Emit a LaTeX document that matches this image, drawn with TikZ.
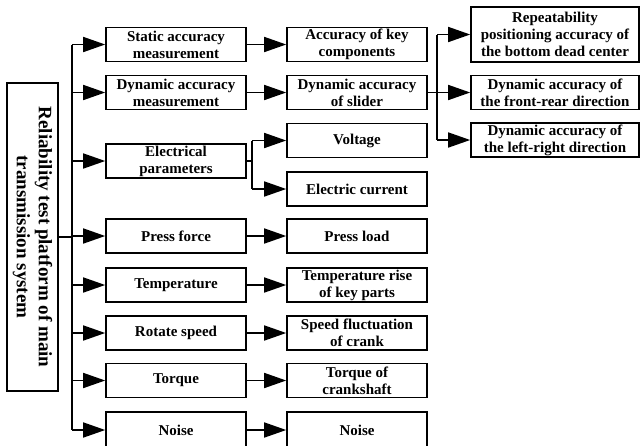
\documentclass[tikz,border=0pt]{standalone}
\usepackage{fontspec}
\setmainfont{Liberation Serif}
\usetikzlibrary{arrows.meta}
\begin{document}
\begin{tikzpicture}[x=1pt,y=-1pt,
  box/.style={draw, line width=1.6pt, align=center, inner sep=0pt,
    font=\bfseries\fontsize{15}{17}\selectfont, minimum height=34pt},
  c1/.style={box, minimum width=140pt},
  c3/.style={box, minimum width=168pt},
  link/.style={line width=1.6pt},
  arr/.style={link, -{Triangle[length=22pt,width=15pt]}}]
\useasboundingbox (0,0) rectangle (640,445);

% root box, text running downwards (north anchor faces right)
\node[box, font=\bfseries\fontsize{19}{22}\selectfont,
      minimum width=308pt, minimum height=51pt, rotate=-90]
  (root) at (32.5,237) {Reliability test platform of main\\transmission system};

% first level
\node[c1] (sam) at (176,44.5) {Static accuracy\\measurement};
\node[c1] (dam) at (176,92.5) {Dynamic accuracy\\measurement};
\node[c1] (ep)  at (176,161)  {Electrical\\parameters};
\node[c1] (pf)  at (176,236)  {Press force};
\node[c1] (tp)  at (176,285)  {Temperature};
\node[c1] (rs)  at (176,333)  {Rotate speed};
\node[c1] (tq)  at (176,380.5){Torque};
\node[c1, minimum height=36pt] (ns) at (176,430) {Noise};

% second level
\node[c1] (akc) at (357,44.5) {Accuracy of key\\components};
\node[c1] (das) at (357,92.5) {Dynamic accuracy\\of slider};
\node[c1] (vol) at (357,140.5){Voltage};
\node[c1] (cur) at (357,189)  {Electric current};
\node[c1] (pl)  at (357,236)  {Press load};
\node[c1] (tr)  at (357,285)  {Temperature rise\\of key parts};
\node[c1] (sf)  at (357,333)  {Speed fluctuation\\of crank};
\node[c1] (tc)  at (357,380.5){Torque of\\crankshaft};
\node[c1, minimum height=36pt] (nz) at (357,430) {Noise};

% third level
\node[c3, minimum height=55pt] (rep) at (555,34.5)
  {Repeatability\\positioning accuracy of\\the bottom dead center};
\node[c3] (fr) at (555,92.5) {Dynamic accuracy of\\the front-rear direction};
\node[c3] (lr) at (555,140)  {Dynamic accuracy of\\the left-right direction};

% trunk from the root
\coordinate (trunk) at (72,0);
\draw[link] (root.north) -- (trunk |- root.north);
\draw[link] (trunk |- sam) -- (trunk |- ns);
\foreach \n in {sam,dam,ep,pf,tp,rs,tq,ns}
  \draw[arr] (trunk |- \n) -- (\n);

% straight links to the second level
\draw[arr] (sam) -- (akc);
\draw[arr] (dam) -- (das);
\draw[arr] (pf) -- (pl);
\draw[arr] (tp) -- (tr);
\draw[arr] (rs) -- (sf);
\draw[arr] (tq) -- (tc);
\draw[arr] (ns) -- (nz);

% electrical parameters branch
\coordinate (eb) at (252,0);
\draw[link] (ep.east) -- (eb |- ep);
\draw[link] (eb |- vol) -- (eb |- cur);
\draw[arr] (eb |- vol) -- (vol);
\draw[arr] (eb |- cur) -- (cur);

% slider branch
\coordinate (sb) at (437,0);
\draw[link] (das.east) -- (sb |- das);
\draw[link] (sb |- rep) -- (sb |- lr);
\draw[arr] (sb |- rep) -- (rep);
\draw[arr] (sb |- fr) -- (fr);
\draw[arr] (sb |- lr) -- (lr);
\end{tikzpicture}
\end{document}
